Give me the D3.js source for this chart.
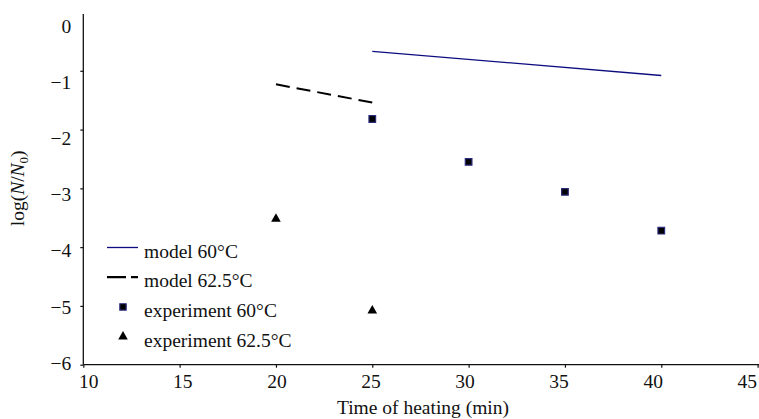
<!DOCTYPE html>
<html lang="en">
<head>
  <meta charset="utf-8">
  <title>log(N/N0) vs time of heating</title>
  <script src="https://d3js.org/d3.v7.min.js"></script>
  <style>
    body { margin: 0; background: #fff; }
    svg text { font-family: "Liberation Serif", "Times New Roman", serif; fill: #111; }
  </style>
</head>
<body>
<div id="chart"></div>
<script>
// data
var modelTime60 = [25, 40];
var modelLog60 = [-0.67, -1.08];
var modelTime625 = [20, 25];
var modelLog625 = [-1.23, -1.54];
var expTime60 = [25, 30, 35, 40];
var expLog60 = [-1.82, -2.55, -3.06, -3.72];
var expTime625 = [20, 25];
var expLog625 = [-3.52, -5.08];
var xTicks = [10, 15, 20, 25, 30, 35, 40, 45];
var yTicks = [0, -1, -2, -3, -4, -5, -6];
var legendLabels = ["model 60°C", "model 62.5°C", "experiment 60°C", "experiment 62.5°C"];

var width = 759, height = 419;
var fontSize = 19.5;
var serif = "'Liberation Serif', 'Times New Roman', serif";

var svg = d3.select("#chart")
  .append("svg")
    .attr("width", width)
    .attr("height", height);

var x = d3.scaleLinear().domain([10, 45]).range([83.3, 757.6]);
var y = d3.scaleLinear().domain([0, -6]).range([12, 364.7]);
// tick labels in the original sit a little off their ticks
var xLab = d3.scaleLinear().domain([10, 45]).range([88.3, 746.7]);
var yLab = d3.scaleLinear().domain([0, -6]).range([26, 363]);

// x axis
var xAxis = svg.append("g")
  .attr("transform", "translate(0," + y(-6) + ")")
  .call(d3.axisBottom(x).tickValues(xTicks).tickSize(3).tickPadding(6).tickSizeOuter(0));

// y axis
var yAxis = svg.append("g")
  .attr("transform", "translate(" + x(10) + ",0)")
  .call(d3.axisLeft(y).tickValues(yTicks).tickSize(3).tickPadding(9).tickSizeOuter(0)
    .tickFormat(d3.format("d")));

[xAxis, yAxis].forEach(function(a) {
  a.attr("font-family", serif).attr("font-size", fontSize);
  a.select(".domain").attr("stroke", "#111").attr("stroke-width", 1.3);
  a.selectAll(".tick line").attr("stroke", "#111").attr("stroke-width", 1.2);
  a.selectAll("text").attr("fill", "#111");
});
xAxis.selectAll(".tick text")
  .attr("x", function(d) { return xLab(d) - x(d); });
yAxis.selectAll(".tick").filter(function(d) { return d === 0; }).select("line").remove();
yAxis.selectAll(".tick text")
  .attr("y", function(d) { return yLab(d) - y(d); });
yAxis.select(".domain").attr("d", "M0," + (y(0) + 2) + "V" + y(-6));
xAxis.select(".domain").attr("d", "M" + x(10) + ",0H" + width);

// axis titles
svg.append("text")
  .attr("x", 423)
  .attr("y", 414)
  .attr("text-anchor", "middle")
  .style("font-size", fontSize + "px")
  .text("Time of heating (min)");

var yTitle = svg.append("text")
  .attr("transform", "translate(24," + ((y(0) + y(-6)) / 2) + ") rotate(-90)")
  .attr("text-anchor", "middle")
  .style("font-size", fontSize + "px");
yTitle.append("tspan").text("log(");
yTitle.append("tspan").style("font-style", "italic").text("N");
yTitle.append("tspan").text("/");
yTitle.append("tspan").style("font-style", "italic").text("N");
yTitle.append("tspan").attr("dy", 4).style("font-size", "13px").text("0");
yTitle.append("tspan").attr("dy", -4).text(")");

// model lines
var line = d3.line()
  .x(function(d) { return x(d[0]); })
  .y(function(d) { return y(d[1]); });

svg.append("path")
  .datum(d3.zip(modelTime60, modelLog60))
  .attr("d", line)
  .attr("fill", "none")
  .attr("stroke", "#0d0d80")
  .attr("stroke-width", 1.3);

svg.append("path")
  .datum(d3.zip(modelTime625, modelLog625))
  .attr("d", line)
  .attr("fill", "none")
  .attr("stroke", "#000")
  .attr("stroke-width", 2)
  .attr("stroke-dasharray", "14,7");

// experiment points
var square = d3.symbol().type(d3.symbolSquare).size(44);
var triangle = d3.symbol().type(d3.symbolTriangle).size(40);

svg.selectAll(".sq")
  .data(d3.zip(expTime60, expLog60))
  .enter()
  .append("path")
    .attr("class", "sq")
    .attr("d", square)
    .attr("transform", function(d) { return "translate(" + x(d[0]) + "," + y(d[1]) + ")"; })
    .attr("fill", "#000")
    .attr("stroke", "#2a2a7a")
    .attr("stroke-width", 1.2);

svg.selectAll(".tri")
  .data(d3.zip(expTime625, expLog625))
  .enter()
  .append("path")
    .attr("class", "tri")
    .attr("d", triangle)
    .attr("transform", function(d) { return "translate(" + x(d[0]) + "," + y(d[1]) + ")"; })
    .attr("fill", "#000");

// legend
var legend = svg.append("g").attr("transform", "translate(107,247.5)");
var rowH = 29.7;

legend.append("line")
  .attr("x1", 0).attr("x2", 31).attr("y1", 0).attr("y2", 0)
  .attr("stroke", "#0d0d80").attr("stroke-width", 1.3);
legend.append("line")
  .attr("x1", 0).attr("x2", 31).attr("y1", rowH).attr("y2", rowH)
  .attr("stroke", "#000").attr("stroke-width", 2.2)
  .attr("stroke-dasharray", "19,5");
legend.append("path")
  .attr("d", square.size(40))
  .attr("transform", "translate(16," + (rowH * 2) + ")")
  .attr("fill", "#000").attr("stroke", "#2a2a7a").attr("stroke-width", 1.2);
legend.append("path")
  .attr("d", triangle)
  .attr("transform", "translate(16," + (rowH * 3) + ")")
  .attr("fill", "#000");

legend.selectAll(".lab")
  .data(legendLabels)
  .enter()
  .append("text")
    .attr("class", "lab")
    .attr("x", 37)
    .attr("y", function(d, i) { return i * rowH + 10; })
    .style("font-size", fontSize + "px")
    .text(function(d) { return d; });
</script>
</body>
</html>
